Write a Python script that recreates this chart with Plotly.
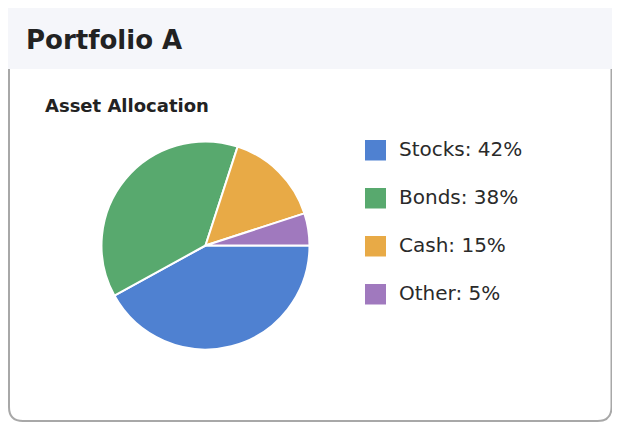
import plotly.graph_objects as go

categories = ["Stocks", "Bonds", "Cash", "Other"]
values = [42, 38, 15, 5]
colors = ["#4F81D1", "#58A96E", "#E8AA46", "#A079BE"]
card_title = "Portfolio A"
chart_title = "Asset Allocation"

W, H = 604, 414
OFF = 8  # page body margin
FONT = "DejaVu Sans"

fig = go.Figure()

# pie (center ~ (205.5, 245.5) px on page, radius ~104 px)
cx, cy, r = 205.5 - OFF, 245.5 - OFF, 104
fig.add_trace(go.Pie(
    labels=categories,
    values=values,
    marker=dict(colors=colors, line=dict(color="white", width=2)),
    sort=False,
    direction="clockwise",
    rotation=90,
    textinfo="none",
    hoverinfo="label+percent",
    showlegend=False,
    domain=dict(x=[(cx - r) / W, (cx + r) / W], y=[1 - (cy + r) / H, 1 - (cy - r) / H]),
))

# invisible pixel-space axes for card decoration
fig.add_trace(go.Scatter(x=[0], y=[0], mode="markers", marker=dict(opacity=0),
                         hoverinfo="skip", showlegend=False))

shapes = []
# header band
shapes.append(dict(type="rect", xref="x", yref="y", x0=0, x1=W, y0=0, y1=61,
                   fillcolor="#F5F6FA", line=dict(width=0), layer="below"))
# card border with rounded bottom corners
rad = 14
L, R, T, B = 1, 603.5, 61, 413
path = (f"M {L},{T} L {L},{B - rad} Q {L},{B} {L + rad},{B} "
        f"L {R - rad},{B} Q {R},{B} {R},{B - rad} L {R},{T}")
shapes.append(dict(type="path", xref="x", yref="y", path=path,
                   line=dict(color="#A8A8A8", width=2), layer="below"))

annotations = [
    dict(text=f"<b>{card_title}</b>", x=24 - OFF, y=40 - OFF, xref="x", yref="y",
         xanchor="left", yanchor="middle", showarrow=False,
         font=dict(family=FONT, size=26, color="#222222")),
    dict(text=f"<b>{chart_title}</b>", x=43 - OFF, y=105.5 - OFF, xref="x", yref="y",
         xanchor="left", yanchor="middle", showarrow=False,
         font=dict(family=FONT, size=18, color="#222222")),
]

# custom legend
for i, (cat, val, col) in enumerate(zip(categories, values, colors)):
    top = 140 - OFF + 48 * i
    shapes.append(dict(type="rect", xref="x", yref="y", x0=365 - OFF, x1=386 - OFF,
                       y0=top, y1=top + 20.5, fillcolor=col, line=dict(width=0)))
    annotations.append(dict(text=f"{cat}: {val}%", x=397 - OFF, y=top + 8.5, xref="x", yref="y",
                            xanchor="left", yanchor="middle", showarrow=False,
                            font=dict(family=FONT, size=20, color="#2A2A2A")))

fig.update_layout(
    width=W, height=H,
    margin=dict(l=0, r=0, t=0, b=0),
    paper_bgcolor="white", plot_bgcolor="rgba(0,0,0,0)",
    xaxis=dict(range=[0, W], visible=False, fixedrange=True, domain=[0, 1]),
    yaxis=dict(range=[H, 0], visible=False, fixedrange=True, domain=[0, 1]),
    shapes=shapes,
    annotations=annotations,
    font=dict(family=FONT),
)

fig.write_html("out.html", config={"displayModeBar": False})
